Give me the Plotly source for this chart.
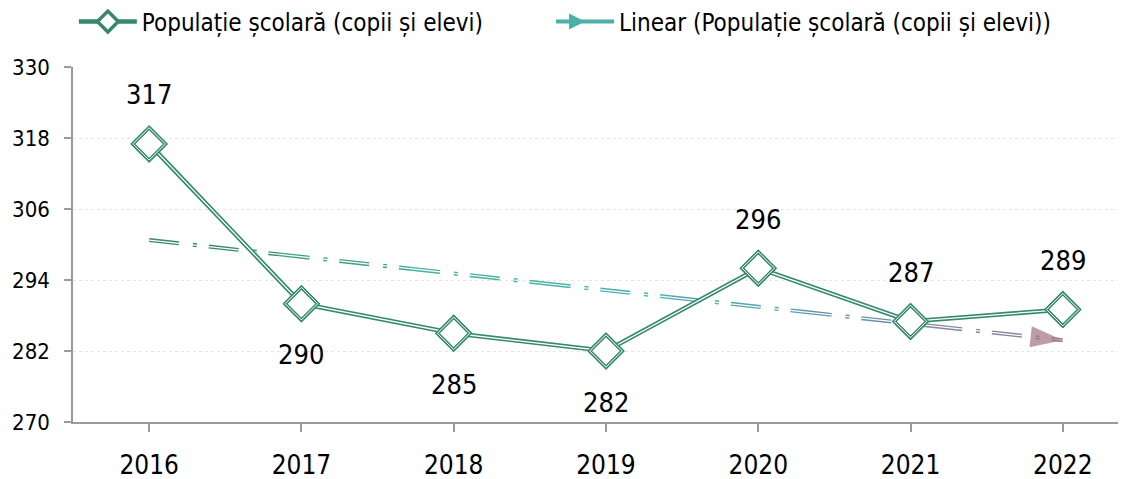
import numpy as np
import plotly.graph_objects as go

years = ["2016", "2017", "2018", "2019", "2020", "2021", "2022"]
values = [317, 290, 285, 282, 296, 287, 289]
label_pos = ["top", "bottom", "bottom", "bottom", "top", "top", "top"]
y_ticks = [270, 282, 294, 306, 318, 330]

series_name = "Populație școlară (copii și elevi)"
trend_name = "Linear (Populație școlară (copii și elevi))"

GREEN = "#35886A"
FONT = "'Liberation Sans Narrow', 'DejaVu Sans Condensed', 'Roboto Condensed', 'Arial Narrow', sans-serif"

xi = np.arange(len(years))
slope, intercept = np.polyfit(xi, values, 1)
trend = intercept + slope * xi

fig = go.Figure()

# Trend line with colour gradient (segments)
grad = ["#3a8a6a", "#42a08a", "#49b0a4", "#4bb2ae", "#58a4b0", "#6a92a8", "#83889e"]
nseg = len(grad)
xs = np.linspace(0, len(years) - 1, nseg + 1)
for k in range(nseg):
    x0, x1 = xs[k], xs[k + 1]
    fig.add_trace(go.Scatter(
        x=[x0, x1], y=[intercept + slope * x0, intercept + slope * x1],
        mode="lines", line=dict(color=grad[k], width=4, dash="30px,14px,4px,12px"),
        showlegend=False, hoverinfo="skip"))
    fig.add_trace(go.Scatter(
        x=[x0, x1], y=[intercept + slope * x0, intercept + slope * x1],
        mode="lines", line=dict(color="white", width=1.2, dash="30px,14px,4px,12px"),
        showlegend=False, hoverinfo="skip"))

# trend start dot and end arrow
fig.add_trace(go.Scatter(
    x=[xi[0], xi[-1]], y=[trend[0], trend[-1]], mode="markers",
    marker=dict(symbol=["circle", "arrow"], size=[10, 34], angleref="previous",
                color=["#3a8a6a", "#a47482"], line=dict(width=0)),
    showlegend=False, hoverinfo="skip"))

# legend entry for trend (second legend)
fig.add_trace(go.Scatter(
    x=[None], y=[None], mode="lines+markers", name=trend_name, legend="legend2",
    line=dict(color="#4ab0a8", width=4),
    marker=dict(symbol="arrow-right", size=18, color="#4ab0a8")))

# main series: green thick line + markers
fig.add_trace(go.Scatter(
    x=xi, y=values, mode="lines+markers", name=series_name, legend="legend",
    line=dict(color=GREEN, width=4.5),
    marker=dict(symbol="diamond", size=25, color="white", line=dict(color=GREEN, width=3.5))))
fig.add_trace(go.Scatter(
    x=xi, y=values, mode="lines", line=dict(color="white", width=1.3),
    showlegend=False, hoverinfo="skip"))
fig.add_trace(go.Scatter(
    x=xi, y=values, mode="markers",
    marker=dict(symbol="diamond", size=25, color="white", line=dict(color=GREEN, width=3.5)),
    showlegend=False, hoverinfo="skip"))
fig.add_trace(go.Scatter(
    x=xi, y=values, mode="markers",
    marker=dict(symbol="diamond", size=25, color="rgba(0,0,0,0)", line=dict(color="white", width=1)),
    showlegend=False, hoverinfo="skip"))

for i, (v, p) in enumerate(zip(values, label_pos)):
    fig.add_annotation(x=i, y=v, text=str(v), showarrow=False,
                       yshift=49 if p == "top" else -51,
                       font=dict(family=FONT, size=27, color="black"))

legend_common = dict(orientation="h", xanchor="left", y=1.127, yref="paper",
                     yanchor="middle", font=dict(family=FONT, size=24),
                     itemwidth=58, bgcolor="rgba(0,0,0,0)")

fig.update_layout(
    width=1126, height=479,
    margin=dict(l=65, r=8, t=59, b=65, autoexpand=False),
    paper_bgcolor="white", plot_bgcolor="white",
    font=dict(family=FONT, color="black"),
    showlegend=True,
    legend=dict(x=0.0008, **legend_common),
    legend2=dict(x=0.454, **legend_common),
    xaxis=dict(
        range=[-0.5, 6.415], tickmode="array", tickvals=list(xi), ticktext=years,
        showgrid=False, zeroline=False, showline=True, linecolor="#9a9a9a", linewidth=1.5,
        ticks="outside", ticklen=8, tickcolor="#9a9a9a", tickwidth=1.5,
        tickfont=dict(family=FONT, size=26), ticklabelstandoff=11),
    yaxis=dict(
        range=[270, 330], tickmode="array", tickvals=y_ticks,
        showgrid=True, gridcolor="#e6e6e6", griddash="dot", gridwidth=1,
        zeroline=False, showline=True, linecolor="#9a9a9a", linewidth=1.5,
        ticks="outside", ticklen=7, tickcolor="#9a9a9a", tickwidth=1.5,
        tickfont=dict(family=FONT, size=22), ticklabelstandoff=10),
)

fig.update_xaxes(tickson="boundaries")

fig.write_html("out.html")
